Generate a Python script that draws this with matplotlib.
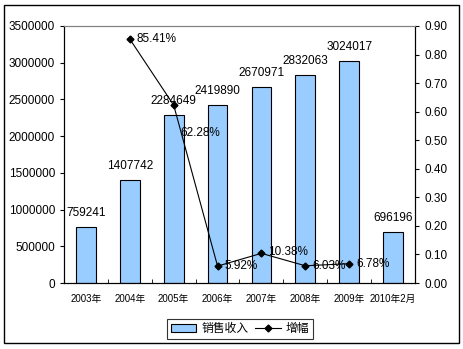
import numpy as np
import matplotlib.pyplot as plt
from matplotlib.ticker import FormatStrFormatter

plt.rcParams['font.family'] = ['Liberation Sans', 'Noto Sans CJK SC', 'DejaVu Sans']

years = ["2003年", "2004年", "2005年", "2006年", "2007年", "2008年", "2009年", "2010年2月"]
sales = [759241, 1407742, 2284649, 2419890, 2670971, 2832063, 3024017, 696196]
growth_idx = [1, 2, 3, 4, 5, 6]
growth = [0.8541, 0.6228, 0.0592, 0.1038, 0.0603, 0.0678]
growth_lbl = ["85.41%", "62.28%", "5.92%", "10.38%", "6.03%", "6.78%"]

fig = plt.figure(figsize=(4.64, 3.49), dpi=100)
ax = fig.add_axes([64/464, 1-283/349, (415-64)/464, (283-26)/349])
x = np.arange(len(years))
bars = ax.bar(x, sales, width=0.45, color='#99CCFF', edgecolor='black', linewidth=0.8, label='销售收入')
ax.set_xlim(-0.5, len(years)-0.5)
ax.set_ylim(0, 3500000)
ax.set_yticks(np.arange(0, 3500001, 500000))
ax.yaxis.set_major_formatter(FormatStrFormatter('%d'))
ax.set_xticks(x)
ax.set_xticklabels(years, fontsize=7)
ax.set_xticks(np.arange(-0.5, len(years)), minor=True)
ax.tick_params(axis='x', which='major', length=0, pad=8)
ax.tick_params(axis='x', which='minor', direction='in', length=3)
ax.tick_params(axis='y', labelsize=8.5, length=3, direction='out')
for i, v in enumerate(sales):
    ax.annotate(str(v), (i, v), xytext=(0, 10), textcoords='offset points',
                ha='center', va='center', fontsize=8.5)
ax.spines['top'].set_color('#808080')

ax2 = ax.twinx()
ln, = ax2.plot(growth_idx, growth, color='black', linewidth=0.8, marker='D', markersize=3.5, label='增幅')
ax2.set_ylim(0, 0.9)
ax2.set_yticks(np.arange(0, 0.91, 0.1))
ax2.yaxis.set_major_formatter(FormatStrFormatter('%.2f'))
ax2.tick_params(axis='y', labelsize=8.5, length=3, direction='out')
dy = [0, -20, 0, 1, 0, 0]
for i, v, s, d in zip(growth_idx, growth, growth_lbl, dy):
    ax2.annotate(s, (i, v), xytext=(5, d), textcoords='offset points',
                 ha='left', va='center', fontsize=8.5)
ax2.spines['top'].set_color('#808080')

leg = fig.legend([bars, ln], ['销售收入', '增幅'], loc='center', bbox_to_anchor=(240/464, 1-329/349),
                 ncol=2, fontsize=8.5, frameon=True, fancybox=False, edgecolor='black',
                 handlelength=2.2, handletextpad=0.4, columnspacing=0.6, borderpad=0.3)
leg.get_frame().set_linewidth(0.8)

fig.patches.append(plt.Rectangle((4/464, 1-343/349), 455/464, 338/349, transform=fig.transFigure,
                                 fill=False, edgecolor='black', linewidth=1))
fig.savefig("out.png", dpi=100)
